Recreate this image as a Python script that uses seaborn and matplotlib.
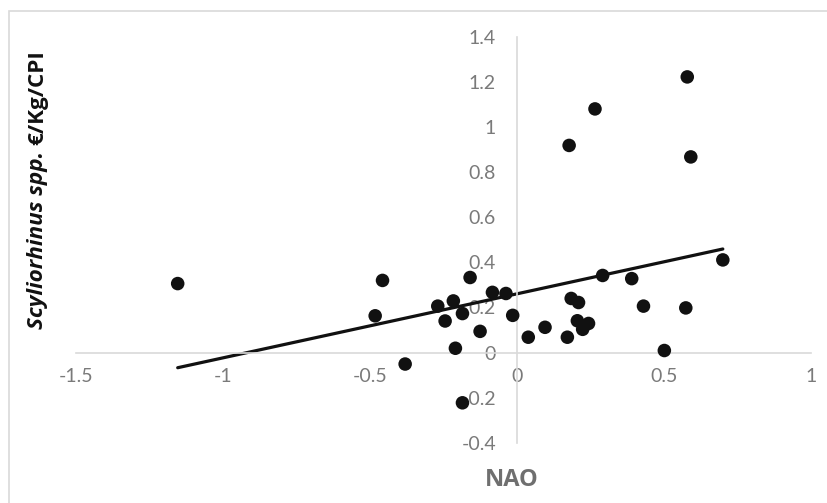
import numpy as np
import pandas as pd
import matplotlib
matplotlib.use("Agg")
import matplotlib.pyplot as plt
import seaborn as sns
from matplotlib.patches import Rectangle

# NAO index vs price of Scyliorhinus spp.
nao = [-1.154, -0.457, -0.482, -0.380, -0.269, -0.244, -0.216, -0.209, -0.185,
       -0.185, -0.159, -0.125, -0.083, -0.037, -0.014, 0.039, 0.096, 0.172,
       0.178, 0.185, 0.210, 0.206, 0.224, 0.244, 0.266, 0.292, 0.391, 0.431,
       0.502, 0.575, 0.580, 0.592, 0.701]
price = [0.306, 0.320, 0.163, -0.051, 0.206, 0.140, 0.229, 0.019, 0.173,
         -0.223, 0.333, 0.094, 0.267, 0.262, 0.165, 0.068, 0.112, 0.068,
         0.919, 0.240, 0.222, 0.141, 0.103, 0.129, 1.081, 0.342, 0.328, 0.206,
         0.009, 0.198, 1.223, 0.868, 0.411]

x_ticks = [-1.5, -1, -0.5, 0, 0.5, 1]
x_tick_labels = ["-1.5", "-1", "-0.5", "0", "0.5", "1"]
y_ticks = [-0.4, -0.2, 0, 0.2, 0.4, 0.6, 0.8, 1, 1.2, 1.4]
y_tick_labels = ["-0.4", "-0.2", "0", "0.2", "0.4", "0.6", "0.8", "1", "1.2", "1.4"]

df = pd.DataFrame({"NAO": nao, "price": price})

sns.set_style("white")
plt.rcParams["font.family"] = ["Lato", "DejaVu Sans"]

fig = plt.figure(figsize=(8.28, 5.03), dpi=100)
ax = fig.add_axes([0.0918, 0.1199, 0.8873, 0.8065])

# chart border like the excel chart area
fig.patches.append(Rectangle((9 / 828, -0.05), 1.2, 1.05 - 11 / 503,
                             transform=fig.transFigure, fill=False,
                             edgecolor="#d9d9d9", linewidth=1.2))

sns.scatterplot(data=df, x="NAO", y="price", ax=ax, color="#111111",
                s=95, edgecolor="none", zorder=3)
sns.regplot(data=df, x="NAO", y="price", ax=ax, scatter=False, ci=None,
            color="#111111", line_kws={"linewidth": 2.3})

ax.set_xlim(-1.5, 1)
ax.set_ylim(-0.4, 1.4)
ax.set_xticks(x_ticks, x_tick_labels)
ax.set_yticks(y_ticks, y_tick_labels)

for side in ["top", "right"]:
    ax.spines[side].set_visible(False)
ax.spines["left"].set_position(("data", 0))
ax.spines["bottom"].set_position(("data", 0))
for side in ["left", "bottom"]:
    ax.spines[side].set_color("#d9d9d9")
    ax.spines[side].set_linewidth(1.2)
ax.tick_params(axis="both", length=0, labelsize=14, labelcolor="#7a7a7a")
ax.tick_params(axis="y", pad=15)
ax.tick_params(axis="x", pad=11)

ax.set_xlabel("")
ax.set_ylabel("")
fig.text(512 / 828, 1 - 480 / 503, "NAO", ha="center", va="center",
         fontsize=17, fontweight="bold", color="#6f6f6f", family="Open Sans")

# y label: italic species name followed by upright units
t1 = fig.text(38 / 828, 1 - 329 / 503, "Scyliorhinus spp.", rotation=90,
              ha="center", va="bottom", fontsize=16.2, fontweight="bold",
              fontstyle="italic", color="#111111", family="Open Sans")
fig.canvas.draw()
bb = t1.get_window_extent(fig.canvas.get_renderer())
top = bb.y1 / fig.bbox.height
fig.text(38 / 828, top + 6 / 503, "€/Kg/CPI", rotation=90, ha="center",
         va="bottom", fontsize=16.2, fontweight="bold", color="#111111",
         family="Open Sans")

fig.savefig("out.png", dpi=100)
